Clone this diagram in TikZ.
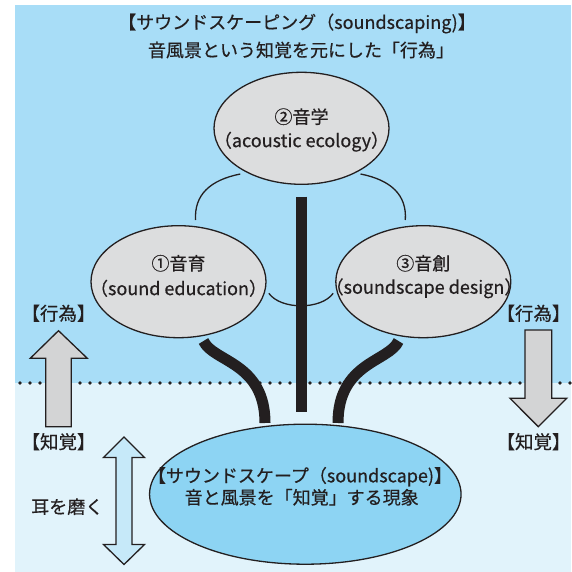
\documentclass[tikz,border=0pt]{standalone}
\usepackage{fontspec}
\setmainfont{Noto Sans CJK JP}[FakeBold=0.5]
\usetikzlibrary{shapes.geometric}
\definecolor{ink}{HTML}{231F20}
\definecolor{bgup}{HTML}{A8DDF7}
\definecolor{bglow}{HTML}{E1F3FB}
\definecolor{bubblegray}{HTML}{DCDDDE}
\definecolor{arrowgray}{HTML}{D3D4D5}
\definecolor{scapeblue}{HTML}{8DD4F3}
\definecolor{paleblue}{HTML}{C6E9F9}
\begin{document}
\begin{tikzpicture}[x=1pt,y=-1pt,
  lbl/.style={font=\fontsize{18}{20}\selectfont, text=ink, inner sep=0pt},
  side/.style={font=\fontsize{18.5}{20}\selectfont, text=ink, inner sep=0pt},
  bubble/.style={ellipse, draw=ink, line width=1.3pt, fill=bubblegray, inner sep=0pt},
  thinarc/.style={draw=ink, line width=1.3pt},
  heavy/.style={draw=ink, line width=11pt},
  blockarrow/.style={draw=ink, line width=1.3pt, fill=arrowgray, line join=miter}]
\useasboundingbox (0,0) rectangle (571,572);
\fill[bgup] (14.5,5) rectangle (571,383);
\fill[bglow] (14.5,383) rectangle (571,572);
\draw[ink, line width=3.6pt, line cap=round, dash pattern=on 0pt off 10pt] (20,383) -- (571,383);

% titles
\node[lbl] (t1) at (297,23.5) {【サウンドスケーピング（soundscaping)】};
\node[lbl] (t2) at (301,50) {音風景という知覚を元にした「行為」};

% thin arcs
\coordinate (a1s) at (195.6,220); \coordinate (a1e) at (240.3,174);
\coordinate (a3s) at (405.3,220); \coordinate (a3e) at (360.5,174);
\coordinate (a0s) at (268.8,293.3); \coordinate (a0e) at (333.2,293.3);
\draw[thinarc] (a1s) .. controls (194,195) and (210,180) .. (a1e);
\draw[thinarc] (a3s) .. controls (407,195) and (391,180) .. (a3e);
\draw[thinarc] (a0s) .. controls (281,310) and (321,310) .. (a0e);

% ellipses
\node[bubble, minimum width=175pt, minimum height=112pt] (e2) at (301.5,128.3) {};
\node[bubble, minimum width=175pt, minimum height=112pt] (e1) at (178.5,281.7) {};
\node[bubble, minimum width=175pt, minimum height=112pt] (e3) at (423.3,281.7) {};
\node[ellipse, draw=ink, line width=1.3pt, fill=scapeblue, inner sep=0pt,
      minimum width=311.5pt, minimum height=140pt] (e0) at (305.3,494.2) {};

% thick connectors
\coordinate (b1s) at (203.5,341); \coordinate (b1e) at (265,423);
\coordinate (b3s) at (398.5,341); \coordinate (b3e) at (338,423);
\coordinate (bvs) at (301,196.7); \coordinate (bve) at (301,411.7);
\draw[heavy] (b1s) .. controls (213,362) and (265,362) .. (b1e);
\draw[heavy] (b3s) .. controls (389,362) and (338,362) .. (b3e);
\draw[heavy] (bvs) -- (bve);

% ellipse texts
\node[lbl] (e2a) at (301.5,116.7) {②音学};
\node[lbl] (e2b) at (301.5,141.7) {（acoustic ecology）};
\node[lbl] (e1a) at (178.5,263.3) {①音育};
\node[lbl] (e1b) at (178.5,288.3) {（sound education）};
\node[lbl] (e3a) at (423.3,263.3) {③音創};
\node[lbl] (e3b) at (424,288.3) {（soundscape design）};
\node[lbl] (e0a) at (300,476.7) {【サウンドスケープ（soundscape)】};
\node[lbl] (e0b) at (301.7,497.3) {音と風景を「知覚」する現象};

% block arrows
\draw[blockarrow] (45.7,426.7) -- (45.7,358.3) -- (30.3,358.3) -- (58.5,330.7)
  -- (87.3,358.3) -- (71.3,358.3) -- (71.3,426.7) -- cycle;
\draw[blockarrow] (525,330) -- (551.7,330) -- (551.7,398.3) -- (566.7,398.3)
  -- (538.3,426.7) -- (510,398.3) -- (525,398.3) -- cycle;
\draw[blockarrow, fill=paleblue] (124,437) -- (144.5,457.5) -- (132,457.5) -- (132,544.5)
  -- (144.5,544.5) -- (124,564.5) -- (103.5,544.5) -- (116,544.5) -- (116,457.5)
  -- (103.5,457.5) -- cycle;

% side labels
\node[side] (l1) at (58.5,313.3) {【行為】};
\node[side] (r1) at (533.5,313.3) {【行為】};
\node[side] (l2) at (58.5,441.7) {【知覚】};
\node[side] (r2) at (533.5,441.7) {【知覚】};
\node[lbl] (ear) at (67.3,506.7) {耳を磨く};
\end{tikzpicture}
\end{document}
